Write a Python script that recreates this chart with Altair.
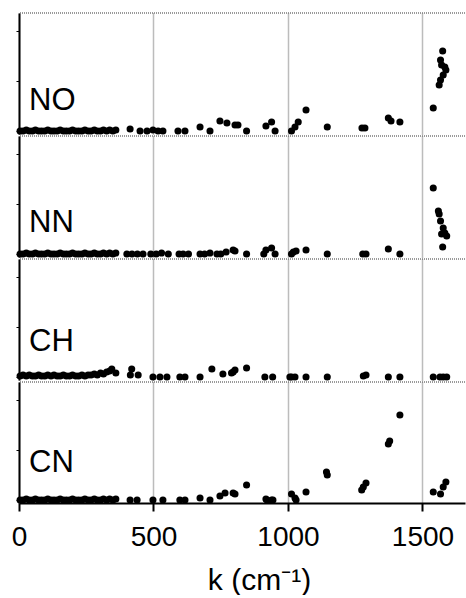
import altair as alt
import pandas as pd

FONT = "Liberation Sans"

panels = ["NO", "NN", "CH", "CN"]
label_y = [97, 96, 92, 90]
x_ticks = [0, 500, 1000, 1500]
y_ticks = [0, 25, 50, 75, 100]
panel_top = [118]

# dense low-frequency points sitting on the baseline (cm^-1)
dense_k = [4, 15, 27, 38, 50, 61, 73, 84, 96, 107, 119, 130, 142, 153, 165, 176,
           188, 199, 211, 222, 234, 245, 257, 268, 280, 291, 303, 314, 326, 337, 349, 360]
dense_h = [0, 0, 1, 0, 0, 1, 0, 0, 0, 1, 0, 0, 0, 1, 0, 0,
           0, 1, 0, 0, 0, 1, 0, 0, 1, 0, 0, 1, 0, 1, 0, 1]

NO_k = dense_k + [413, 450, 476, 498, 517, 535, 591, 617, 673, 710, 747, 773, 803, 814,
                  846, 918, 939, 952, 1013, 1026, 1038, 1067, 1146, 1275, 1286, 1373, 1383,
                  1416, 1540, 1562, 1567, 1577, 1587, 1583, 1571, 1567, 1575]
NO_h = dense_h + [2, 0, 0, 1, 0, 0, 0, 0, 4, 0, 10, 8, 6, 6,
                  0, 5, 9, 0, 0, 4, 9, 21, 4, 3, 3, 13, 10,
                  9, 23, 46, 51, 56, 61, 64, 66, 71, 80]

NN_k = dense_k + [401, 420, 440, 461, 490, 510, 530, 555, 595, 610, 630, 673, 690, 710,
                  736, 750, 770, 796, 803, 846, 910, 918, 939, 952, 1013, 1020, 1030, 1067,
                  1146, 1278, 1290, 1373, 1416, 1540, 1559, 1562, 1567, 1577, 1583, 1571,
                  1590, 1575]
NN_h = dense_h + [0, 0, 0, 0, 0, 0, 1, 0, 0, 0, 0, 0, 0, 1,
                  0, 0, 2, 4, 3, 0, 0, 4, 6, 0, 0, 2, 3, 4,
                  0, 0, 0, 5, 0, 66, 43, 40, 33, 26, 21, 20,
                  18, 7]

CH_k = [4, 15, 27, 38, 50, 61, 73, 84, 96, 107, 119, 130, 142, 153, 165, 176,
        188, 199, 211, 222, 234, 245, 257, 268, 280, 291, 303, 314, 326, 337, 345, 360,
        414, 419, 443, 498, 524, 550, 598, 617, 673, 717, 758, 790, 796, 803, 846,
        914, 943, 1007, 1013, 1026, 1067, 1146, 1280, 1290, 1373, 1416, 1540, 1565,
        1577, 1590]
CH_h = [1, 2, 1, 2, 1, 1, 2, 1, 1, 2, 1, 2, 1, 1, 2, 1,
        1, 2, 1, 1, 2, 1, 2, 2, 3, 2, 4, 3, 5, 6, 8, 4,
        2, 8, 2, 0, 0, 0, 0, 0, 0, 8, 3, 4, 5, 7, 9,
        0, 0, 0, 0, 0, 0, 0, 1, 2, 0, 0, 0, 0,
        0, 0]

CN_k = dense_k + [413, 439, 498, 535, 598, 617, 673, 710, 747, 766, 796, 803, 846, 918,
                  922, 939, 944, 1013, 1026, 1030, 1067, 1143, 1146, 1274, 1280, 1290, 1373,
                  1378, 1416, 1540, 1567, 1577, 1587]
CN_h = dense_h + [0, 0, 0, 0, 0, 0, 2, 0, 4, 7, 7, 6, 15, 1,
                  0, 0, 0, 6, 2, 0, 8, 28, 25, 10, 13, 17, 56,
                  59, 85, 8, 6, 13, 18]

series_k = [NO_k, NN_k, CH_k, CN_k]
series_h = [NO_h, NN_h, CH_h, CN_h]

X_DOMAIN = [0, 1658]
Y_DOMAIN = [-3, 118]
W = 446
H = 121


def make_panel(i):
    bottom = i == len(panels) - 1
    df = pd.DataFrame({"k": series_k[i], "h": series_h[i]})
    xscale = alt.Scale(domain=X_DOMAIN, nice=False, zero=False)
    yscale = alt.Scale(domain=Y_DOMAIN, nice=False, zero=False)
    if bottom:
        xaxis = alt.Axis(values=x_ticks, format="d", grid=True, gridColor="#7a7a7a",
                         gridDash=[1, 1], gridWidth=1.5, domain=True, domainColor="black",
                         domainWidth=2, ticks=True, tickColor="black", tickWidth=2, tickSize=8,
                         labels=True, labelFont=FONT, labelFontSize=28, labelColor="black",
                         labelPadding=12, labelFlush=False,
                         title="k (cm\u207b\u00b9)", titleFont=FONT, titleFontSize=30,
                         titleFontWeight="normal", titleColor="black", titlePadding=14,
                         titleX=240)
    else:
        xaxis = alt.Axis(values=x_ticks, grid=True, gridColor="#7a7a7a", gridDash=[1, 1],
                         gridWidth=1.5, domain=False, ticks=False, labels=False, title=None)
    yaxis = alt.Axis(values=y_ticks, grid=False, domain=True, domainColor="black",
                     domainWidth=2, ticks=True, tickColor="black", tickSize=3, tickWidth=1,
                     labels=False, title=None, minExtent=0, maxExtent=3)
    pts = alt.Chart(df).mark_circle(size=50, color="black", opacity=1).encode(
        x=alt.X("k:Q", scale=xscale, axis=xaxis),
        y=alt.Y("h:Q", scale=yscale, axis=yaxis),
    )
    top = alt.Chart(pd.DataFrame({"y": panel_top})).mark_rule(
        color="#7a7a7a", strokeDash=[1, 1], strokeWidth=1.5
    ).encode(y=alt.Y("y:Q", scale=yscale))
    txt = alt.Chart(pd.DataFrame({"t": [panels[i]]})).mark_text(
        align="left", baseline="alphabetic", fontSize=31, font=FONT, color="black"
    ).encode(text="t:N", x=alt.value(10), y=alt.value(label_y[i]))
    return alt.layer(top, pts, txt).properties(width=W, height=H)


chart = alt.vconcat(*[make_panel(i) for i in range(len(panels))], spacing=0).properties(
    padding={"left": 11, "top": 12, "right": 0, "bottom": 0},
    background="white",
).configure_view(
    stroke=None
)

chart.save("out.html", embed_options={"renderer": "svg", "actions": False})
